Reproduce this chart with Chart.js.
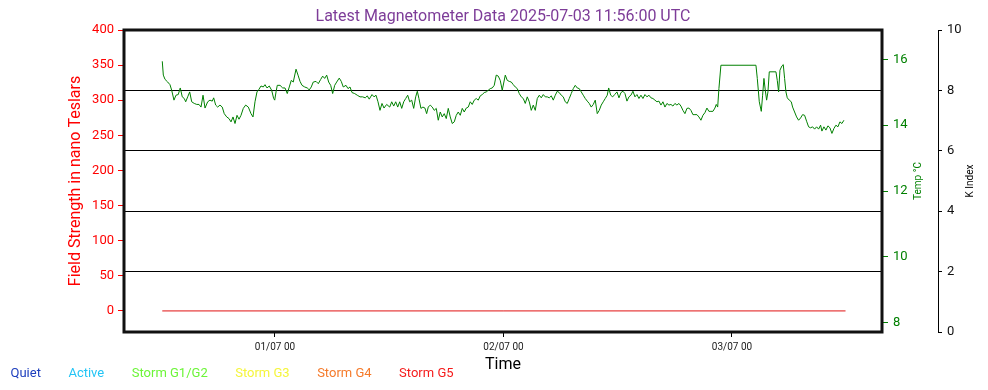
<!DOCTYPE html>
<html>
<head>
<meta charset="utf-8">
<title>Magnetometer</title>
<script src="https://cdn.jsdelivr.net/npm/chart.js@4.4.1/dist/chart.umd.min.js"></script>
<style>
  html, body { margin: 0; padding: 0; background: #fff; }
  canvas { display: block; }
</style>
</head>
<body>
<canvas id="magChart" width="988" height="390"></canvas>
<script>
// time in hours relative to 01/07 00:00 UTC
var tempHours = [
  -11.84, -11.73, -11.55, -11.27, -11.03, -10.85, -10.61, -10.40, -10.16, -9.95,
  -9.74, -9.53, -9.38, -9.17, -8.96, -8.75, -8.48, -8.22, -7.98, -7.77,
  -7.56, -7.35, -7.07, -6.83, -6.59, -6.44, -6.23, -6.02, -5.78, -5.54,
  -5.33, -5.07, -4.83, -4.62, -4.41, -4.20, -3.99, -3.78, -3.57, -3.33,
  -3.08, -2.80, -2.52, -2.31, -2.10, -1.89, -1.68, -1.47, -1.23, -1.05,
  -0.84, -0.60, -0.35, -0.14, -0.03, 0.11, 0.24, 0.53, 0.81, 1.05,
  1.29, 1.50, 1.71, 1.92, 2.21, 2.42, 2.63, 2.84, 3.12, 3.39,
  3.60, 3.81, 4.02, 4.31, 4.55, 4.80, 5.01, 5.22, 5.43, 5.64,
  5.85, 6.06, 6.27, 6.48, 6.75, 6.96, 7.17, 7.46, 7.67, 7.88,
  8.09, 8.37, 8.64, 8.93, 9.21, 9.48, 9.69, 9.90, 10.19, 10.40,
  10.61, 10.82, 11.03, 11.24, 11.45, 11.73, 12.05, 12.26, 12.47, 12.68,
  12.89, 13.10, 13.31, 13.52, 13.73, 13.94, 14.15, 14.36, 14.57, 14.78,
  14.95, 15.12, 15.33, 15.54, 15.75, 15.93, 16.10, 16.31, 16.52, 16.73,
  16.94, 17.15, 17.36, 17.57, 17.78, 17.99, 18.20, 18.41, 18.62, 18.83,
  19.04, 19.25, 19.46, 19.67, 19.88, 20.09, 20.30, 20.51, 20.72, 20.93,
  21.14, 21.35, 21.56, 21.77, 21.98, 22.19, 22.40, 22.61, 22.82, 23.03,
  23.24, 23.45, 23.66, 23.87, 24.19, 24.40, 24.61, 24.82, 25.03, 25.24,
  25.45, 25.66, 25.87, 26.08, 26.29, 26.50, 26.71, 26.92, 27.13, 27.34,
  27.55, 27.76, 27.97, 28.18, 28.39, 28.60, 28.81, 29.02, 29.23, 29.44,
  29.65, 29.86, 30.07, 30.28, 30.49, 30.70, 30.91, 31.12, 31.33, 31.54,
  31.75, 31.96, 32.17, 32.38, 32.59, 32.80, 33.01, 33.22, 33.43, 33.64,
  33.85, 34.06, 34.27, 34.48, 34.69, 34.90, 35.05, 35.26, 35.47, 35.68,
  35.92, 36.13, 36.34, 36.55, 36.76, 36.97, 37.18, 37.39, 37.60, 37.81,
  38.02, 38.23, 38.44, 38.65, 38.86, 39.07, 39.28, 39.49, 39.70, 39.91,
  40.12, 40.33, 40.54, 40.75, 40.96, 41.17, 41.38, 41.59, 41.80, 42.01,
  42.22, 42.43, 42.64, 42.85, 43.06, 43.27, 43.48, 43.69, 43.90, 44.11,
  44.32, 44.53, 44.74, 44.95, 45.16, 45.37, 45.58, 45.79, 46.00, 46.21,
  46.35, 46.50, 46.63, 46.84, 50.52, 50.66, 50.87, 51.08, 51.22, 51.36,
  51.50, 51.64, 51.78, 51.92, 52.62, 52.76, 52.90, 53.04, 53.25, 53.39,
  53.53, 53.67, 53.81, 54.02, 54.23, 54.37, 54.58, 54.79, 55.00, 55.21,
  55.42, 55.63, 55.84, 56.05, 56.26, 56.47, 56.68, 56.89, 57.10, 57.31,
  57.45, 57.66, 57.87, 58.08, 58.29, 58.50, 58.71, 58.92, 59.13, 59.34,
  59.55, 59.76
];
var tempValues = [
  15.94, 15.52, 15.39, 15.31, 15.23, 15.06, 14.76, 14.91, 14.93, 15.13,
  14.86, 14.81, 14.71, 14.86, 15.01, 14.71, 14.66, 14.63, 14.63, 14.55,
  14.91, 14.52, 14.71, 14.76, 14.73, 14.83, 14.61, 14.55, 14.61, 14.55,
  14.35, 14.25, 14.20, 14.10, 14.25, 14.05, 14.30, 14.18, 14.30, 14.51,
  14.61, 14.55, 14.35, 14.25, 14.71, 15.01, 15.09, 15.19, 15.16, 15.23,
  15.13, 15.19, 15.06, 14.81, 14.76, 15.01, 15.21, 15.21, 15.13, 15.13,
  14.96, 15.16, 15.36, 15.31, 15.70, 15.52, 15.33, 15.21, 15.16, 15.13,
  15.07, 15.16, 15.31, 15.33, 15.26, 15.39, 15.49, 15.42, 15.52, 15.31,
  15.21, 14.96, 15.21, 15.31, 15.43, 15.33, 15.16, 15.21, 15.11, 15.16,
  14.99, 14.96, 14.91, 14.86, 14.86, 14.83, 14.89, 14.79, 14.93, 14.86,
  14.91, 14.71, 14.45, 14.66, 14.52, 14.63, 14.55, 14.71, 14.58, 14.71,
  14.55, 14.71, 14.51, 14.71, 14.81, 14.91, 14.71, 14.76, 14.51, 14.86,
  15.03, 14.81, 14.51, 14.55, 14.52, 14.35, 14.55, 14.61, 14.55, 14.45,
  14.51, 14.15, 14.40, 14.25, 14.35, 14.20, 14.51, 14.25, 14.05, 14.10,
  14.30, 14.40, 14.30, 14.51, 14.40, 14.52, 14.55, 14.71, 14.63, 14.76,
  14.81, 14.76, 14.89, 14.93, 14.99, 15.01, 15.06, 15.11, 15.13, 15.21,
  15.52, 15.49, 15.36, 15.06, 15.52, 15.36, 15.33, 15.31, 15.23, 15.16,
  15.11, 14.96, 14.86, 14.81, 14.66, 14.86, 14.71, 14.45, 14.61, 14.45,
  14.81, 14.91, 14.83, 14.93, 14.86, 14.86, 14.83, 14.89, 14.76, 14.91,
  15.03, 14.99, 14.91, 14.86, 14.71, 14.66, 14.81, 14.96, 15.11, 15.21,
  15.13, 15.11, 15.01, 14.91, 14.81, 14.73, 14.66, 14.55, 14.63, 14.76,
  14.35, 14.45, 14.61, 14.71, 14.81, 14.91, 15.13, 14.91, 14.86, 14.93,
  15.01, 14.83, 14.99, 15.03, 14.96, 14.73, 14.86, 14.91, 15.03, 14.86,
  14.93, 14.81, 14.91, 14.81, 14.93, 14.86, 14.91, 14.83, 14.81, 14.76,
  14.71, 14.73, 14.61, 14.71, 14.55, 14.66, 14.61, 14.63, 14.58, 14.66,
  14.61, 14.66, 14.58, 14.45, 14.35, 14.51, 14.52, 14.45, 14.32, 14.32,
  14.32, 14.25, 14.15, 14.30, 14.38, 14.52, 14.42, 14.42, 14.42, 14.52,
  14.63, 14.55, 15.11, 15.82, 15.82, 15.42, 14.71, 14.42, 14.91, 15.42,
  15.06, 14.76, 15.01, 15.62, 15.62, 15.36, 15.01, 15.67, 15.80, 15.84,
  15.42, 15.01, 14.83, 14.76, 14.71, 14.55, 14.40, 14.25, 14.15, 14.22,
  14.32, 14.30, 14.12, 13.95, 13.92, 13.95, 13.88, 13.95, 13.88, 14.00,
  13.82, 13.95, 13.85, 13.98, 13.92, 13.75, 13.90, 14.00, 13.95, 14.10,
  14.05, 14.15
];
var fieldHours = [-11.84, 59.93];
var fieldValues = [0, 0];

var kLevels = ['Quiet', 'Active', 'Storm G1/G2', 'Storm G3', 'Storm G4', 'Storm G5'];
var kColors = ['#1c3dbd', '#22c4f5', '#6cf538', '#f5f53c', '#f57a2a', '#f51c1c'];

var timeTicks = [0, 24, 48];
var timeLabels = ['01/07 00', '02/07 00', '03/07 00'];
var fieldTicks = [0, 50, 100, 150, 200, 250, 300, 350, 400];
var tempTicks = [8, 10, 12, 14, 16];
var kTicks = [0, 2, 4, 6, 8, 10];

function points(xs, ys) {
  return xs.map(function (x, i) { return { x: x, y: ys[i] }; });
}
function fixTicks(list) {
  return function (scale) {
    scale.ticks = list.map(function (v) { return { value: v }; });
  };
}

// thick black frame round the plot
var frame = {
  id: 'frame',
  afterDatasetsDraw: function (chart) {
    var a = chart.chartArea, ctx = chart.ctx;
    ctx.save();
    ctx.lineWidth = 3;
    ctx.strokeStyle = '#111';
    ctx.strokeRect(a.left, a.top, a.right - a.left, a.bottom - a.top);
    ctx.restore();
  }
};

// right-hand axis titles read bottom to top
var sideTitles = {
  id: 'sideTitles',
  afterDraw: function (chart) {
    var ctx = chart.ctx;
    [['temp', 'Temp °C', 'green', 20], ['k', 'K Index', '#000', 18]].forEach(function (t) {
      var s = chart.scales[t[0]];
      ctx.save();
      ctx.translate(s.right - t[3], (s.top + s.bottom) / 2);
      ctx.rotate(-Math.PI / 2);
      ctx.font = '10px Roboto';
      ctx.fillStyle = t[2];
      ctx.textAlign = 'center';
      ctx.textBaseline = 'middle';
      ctx.fillText(t[1], 0, 0);
      ctx.restore();
    });
  }
};

Chart.defaults.font.family = 'Roboto';

new Chart(document.getElementById('magChart'), {
  type: 'line',
  data: {
    datasets: [{
      label: 'Temp',
      data: points(tempHours, tempValues),
      yAxisID: 'temp',
      borderColor: 'green',
      borderWidth: 1,
      pointRadius: 0,
      tension: 0
    }, {
      label: 'Field',
      data: points(fieldHours, fieldValues),
      yAxisID: 'y',
      borderColor: '#e01010',
      borderWidth: 1,
      pointRadius: 0
    }]
  },
  options: {
    responsive: false,
    animation: false,
    devicePixelRatio: 1,
    layout: { padding: { left: -17, right: 0, top: 0, bottom: 0 } },
    plugins: {
      tooltip: { enabled: false },
      title: {
        display: true,
        fullSize: false,
        text: 'Latest Magnetometer Data 2025-07-03 11:56:00 UTC',
        color: '#7d3c98',
        font: { size: 16, weight: 'normal' },
        padding: { top: 7, bottom: 3.8 }
      },
      legend: {
        position: 'bottom',
        align: 'start',
        labels: {
          boxWidth: 6,
          padding: 15,
          font: { size: 13 },
          generateLabels: function () {
            return kLevels.map(function (name, i) {
              return {
                text: name,
                fontColor: kColors[i],
                fillStyle: 'rgba(0,0,0,0)',
                strokeStyle: 'rgba(0,0,0,0)',
                lineWidth: 0,
                hidden: false
              };
            });
          }
        }
      }
    },
    scales: {
      x: {
        type: 'linear',
        min: -15.86,
        max: 63.76,
        offset: false,
        afterBuildTicks: fixTicks(timeTicks),
        afterFit: function (s) { s.height = 20; },
        border: { display: false },
        grid: { drawOnChartArea: false, tickLength: 5, tickColor: '#000' },
        ticks: {
          color: '#222',
          padding: 4,
          maxRotation: 0,
          font: { family: 'Liberation Sans Narrow, Roboto', size: 10 },
          callback: function (v) { return timeLabels[timeTicks.indexOf(v)]; }
        },
        title: {
          display: true,
          text: 'Time',
          color: '#000',
          font: { family: 'Liberation Sans Narrow, Roboto', size: 16 },
          padding: { top: 0, bottom: -22.6 }
        }
      },
      y: {
        type: 'linear',
        position: 'left',
        min: -30,
        max: 400,
        afterBuildTicks: fixTicks(fieldTicks),
        afterFit: function (s) { s.width = 141; },
        border: { display: false },
        grid: { drawOnChartArea: false, tickLength: 6, tickColor: 'red' },
        ticks: { color: 'red', padding: 4, font: { size: 13 } },
        title: {
          display: true,
          text: 'Field Strength in nano Teslars',
          color: 'red',
          font: { size: 16 },
          padding: { top: 83.4, bottom: 0 }
        }
      },
      temp: {
        type: 'linear',
        position: 'right',
        weight: 1,
        min: 7.72,
        max: 16.89,
        afterBuildTicks: fixTicks(tempTicks),
        afterFit: function (s) { s.width = 56; },
        border: { display: false },
        grid: { drawOnChartArea: false, tickLength: 6, tickColor: 'green' },
        ticks: { color: 'green', padding: 5, font: { size: 13 } }
      },
      k: {
        type: 'linear',
        position: 'right',
        weight: 2,
        min: 0,
        max: 10,
        afterBuildTicks: fixTicks(kTicks),
        afterFit: function (s) { s.width = 50; },
        border: { display: true, color: '#000', width: 1 },
        grid: { drawOnChartArea: true, color: '#000', lineWidth: 1, tickLength: 4, tickColor: '#000' },
        ticks: { color: '#111', padding: 5, font: { size: 13 } }
      }
    }
  },
  plugins: [frame, sideTitles]
});
</script>
</body>
</html>
